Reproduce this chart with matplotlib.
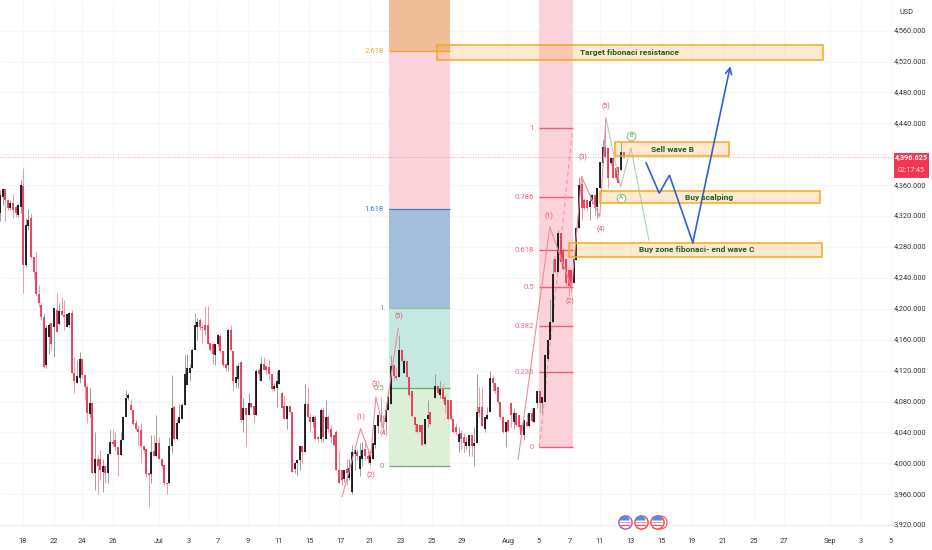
import matplotlib
matplotlib.use("Agg")
import matplotlib.pyplot as plt
import numpy as np
from matplotlib.patches import Rectangle

plt.rcParams['font.family'] = ['Roboto', 'DejaVu Sans']

opens = [4324,4345,4355,4341,4330,4337,4332,4321,4332,4359,
4257,4307,4317,4267,4247,4219,4205,4190,4127,4164,
4181,4177,4198,4180,4197,4192,4177,4179,4194,4117,
4104,4110,4135,4114,4099,4064,4078,3988,4006,4006,
3989,3996,3988,4012,4028,4030,4021,4011,4030,4060,
4084,4075,4069,4052,4045,4043,4022,4019,3987,3986,
4016,4009,4026,4006,3998,3975,3974,4022,4073,4032,
4052,4058,4075,4101,4117,4123,4147,4177,4185,4177,
4179,4179,4156,4155,4140,4154,4165,4145,4129,4127,
4172,4146,4104,4109,4131,4056,4071,4063,4078,4074,
4063,4121,4107,4128,4126,4125,4116,4096,4097,4103,
4091,4074,4057,4074,4067,3992,4000,4004,4022,4015,
4077,4060,4053,4060,4034,4031,4069,4032,4060,4045,
4037,4041,3991,3991,3980,3993,3981,3963,4012,4015,
3993,4006,4019,4009,4000,4006,4024,4048,4063,4054,
4054,4069,4077,4127,4113,4112,4147,4117,4133,4112,
4093,4060,4051,4050,4050,4025,4057,4067,4084,4100,
4088,4096,4086,4082,4082,4058,4047,4028,4039,4034,
4022,4022,4037,4022,4026,4073,4073,4045,4058,4067,
4111,4104,4099,4080,4060,4040,4056,4078,4054,4065,
4062,4050,4037,4054,4048,4065,4054,4078,4093,4078,
4080,4135,4160,4183,4265,4248,4298,4276,4265,4250,
4250,4233,4263,4304,4362,4341,4341,4332,4339,4347,
4332,4356,4389,4410,4408,4389,4395,4382,4384,4380,
4403]
highs = [4354,4356,4355,4341,4341,4349,4334,4336,4367,4382,
4317,4329,4324,4267,4275,4231,4209,4194,4179,4181,
4181,4201,4221,4207,4215,4211,4193,4196,4198,4138,
4134,4144,4135,4114,4101,4097,4080,4041,4011,4017,
4005,3996,4012,4043,4045,4041,4021,4041,4061,4095,
4091,4082,4069,4056,4050,4052,4022,4019,3987,4037,
4037,4063,4034,4006,3998,3975,4034,4114,4075,4058,
4077,4078,4140,4142,4129,4149,4195,4188,4188,4181,
4203,4203,4156,4155,4155,4168,4167,4145,4129,4174,
4179,4146,4127,4130,4133,4085,4071,4091,4078,4074,
4122,4123,4137,4137,4126,4135,4116,4104,4119,4121,
4094,4088,4074,4074,4067,4002,4006,4022,4022,4103,
4099,4065,4063,4063,4036,4071,4073,4082,4062,4050,
4037,4043,4017,3991,3991,4006,4006,4024,4019,4017,
4026,4028,4030,4019,4017,4026,4050,4063,4086,4063,
4071,4094,4140,4127,4125,4166,4147,4135,4133,4112,
4094,4060,4051,4050,4050,4058,4082,4067,4116,4100,
4106,4103,4088,4082,4082,4058,4052,4047,4043,4039,
4034,4037,4037,4047,4116,4099,4099,4060,4073,4119,
4114,4104,4099,4080,4060,4054,4056,4078,4072,4067,
4062,4050,4056,4065,4065,4071,4072,4093,4093,4086,
4141,4161,4213,4265,4265,4302,4298,4280,4265,4250,
4250,4265,4306,4371,4371,4343,4341,4349,4349,4347,
4356,4390,4418,4446,4408,4395,4395,4382,4384,4416,
4403]
lows = [4314,4334,4313,4328,4328,4317,4319,4319,4324,4220,
4254,4302,4265,4239,4218,4202,4186,4123,4123,4142,
4147,4138,4170,4179,4192,4173,4177,4177,4117,4091,
4104,4104,4110,4082,4052,4060,3987,3965,3960,3978,
3963,3974,3974,4012,4022,4017,3983,4011,4030,4060,
4082,4069,4049,4043,4024,4000,4013,3981,3944,3975,
4009,4009,4006,3994,3972,3960,3974,4013,4030,4030,
4052,4058,4075,4101,4106,4123,4147,4160,4172,4155,
4166,4155,4145,4129,4127,4152,4143,4125,4119,4120,
4147,4093,4097,4097,4054,4041,4022,4063,4071,4054,
4063,4108,4107,4121,4114,4108,4094,4094,4073,4103,
4072,4058,4044,4065,3989,3987,3983,3991,4000,4015,
4060,4041,4047,4032,4028,4028,4028,4032,4041,4026,
4022,3991,3975,3972,3976,3972,3978,3960,3991,4004,
3983,3996,4004,4000,3998,4005,4020,4039,4047,4041,
4045,4069,4077,4108,4108,4112,4131,4117,4112,4086,
4060,4041,4039,4041,4022,4024,4047,4050,4084,4088,
4084,4080,4065,4056,4056,4039,4037,4015,4019,4013,
4019,4009,4009,3996,4026,4060,4048,4041,4058,4067,
4093,4091,4077,4058,4039,4021,4041,4047,4045,4048,
4045,4035,4030,4048,4047,4054,4054,4072,4065,4065,
4080,4134,4160,4183,4246,4248,4258,4250,4228,4216,
4222,4233,4263,4304,4315,4328,4326,4315,4336,4321,
4317,4356,4389,4395,4356,4386,4369,4367,4363,4380,
4395]
closes = [4347,4355,4341,4331,4337,4328,4324,4334,4360,4257,
4309,4315,4267,4247,4219,4208,4190,4125,4175,4179,
4155,4201,4170,4197,4192,4190,4193,4194,4117,4106,
4113,4135,4114,4099,4065,4078,3987,4006,3996,3991,
3997,3988,4012,4028,4025,4021,4011,4030,4060,4085,
4088,4069,4051,4045,4041,4022,4017,3986,3985,4015,
4009,4026,4006,3996,3975,3973,4022,4071,4032,4052,
4060,4075,4116,4123,4124,4147,4179,4183,4177,4175,
4173,4155,4147,4142,4155,4166,4145,4127,4123,4172,
4147,4106,4112,4126,4056,4071,4063,4078,4073,4063,
4119,4116,4128,4121,4121,4116,4096,4100,4106,4121,
4072,4058,4074,4067,3989,4000,4004,4022,4015,4077,
4060,4053,4060,4032,4031,4069,4034,4060,4045,4034,
4024,3991,3975,3978,3991,3987,3994,4015,4017,4009,
4009,4017,4009,4006,4011,4026,4050,4063,4054,4053,
4069,4086,4126,4113,4110,4147,4133,4133,4112,4088,
4061,4050,4041,4041,4024,4058,4063,4051,4100,4091,
4096,4083,4076,4058,4057,4041,4041,4038,4032,4026,
4028,4037,4022,4026,4067,4065,4048,4060,4063,4111,
4104,4093,4079,4060,4041,4054,4042,4063,4065,4050,
4047,4037,4056,4048,4065,4055,4072,4093,4078,4086,
4140,4160,4183,4245,4248,4298,4261,4252,4233,4229,
4227,4265,4304,4360,4330,4330,4330,4339,4347,4331,
4356,4390,4410,4397,4369,4395,4369,4369,4363,4403,
4396]

price_ticks = list(range(3920, 4561, 40))
last_price = 4396.625
date_pos = [8.7,20.7,31.4,43.4,61,72.6,83.5,95.3,107.2,118.9,130.7,142.2,154.1,166,177.6,
            195.3,207.2,218.9,230.6,242.6,254.5,266,277.9,289.9,301.4,319.1,331,342.6]
date_lab = ['18','22','24','26','Jul','3','7','9','11','15','17','21','23','25','29',
            'Aug','5','7','11','13','15','19','21','25','27','Sep','3','5']

fib_left_levels = [3996, 4098, 4201, 4329, 4534]
fib_left_labels = ['0', '0.5', '1', '1.618', '2.618']
fib_right_levels = [4021, 4118, 4178, 4228, 4276, 4345, 4434]
fib_right_labels = ['0', '0.236', '0.382', '0.5', '0.618', '0.786', '1']

wave1_x = [131.5,138.6,142.5,144.5,147.3,153.1]
wave1_y = [3957,4045,4009,4086,4045,4175]
wave2_x = [199.2,211.4,219.8,223.6,230.6,233]
wave2_y = [4005,4306,4227,4371,4319,4447]
corr_x = [233,238.6,242.6,249.5]
corr_y = [4447,4358,4408,4289]
plan_x = [248.4,253.5,257.4,266.4,280.8]
plan_y = [4389,4349.5,4373,4285.6,4514]

boxes = [(168,316.3,4522,4542,'Target fibonaci resistance',242),
         (236.6,280.2,4398,4415.5,'Sell wave B',258.5),
         (230.7,315.5,4336.5,4352.5,'Buy scalping',272.5),
         (218.9,316,4267.5,4285.6,'Buy zone fibonaci- end wave C',268)]

wave_labels = [(138.7,4060,'(1)'),(142.6,3984,'(2)'),(144.5,4102,'(3)'),(147.6,4038,'(4)'),(153.3,4190,'(5)'),
               (211.1,4320,'(1)'),(219.1,4209,'(2)'),(224,4396,'(3)'),(230.9,4303,'(4)'),(232.9,4462,'(5)')]
event_x = [240.3,246.4,252.7]

fig = plt.figure(figsize=(9.32, 5.5), dpi=100, facecolor='white')
ax = fig.add_axes([0, 0, 1, 1])
ax.set_xlim(-0.1, 358.4)
ax.set_ylim(3887.8, 4599.7)
ax.axis('off')

GR = '#f5f5f5'
RIGHT = 343.3
ax.hlines(price_ticks, -0.1, RIGHT, color=GR, lw=0.9, zorder=0)
ax.vlines(date_pos, 3920, 4599.7, color='#f8f8f8', lw=0.9, zorder=0)
ax.hlines([3920], -0.1, RIGHT, color='#eeeeee', lw=0.9, zorder=0)

# fib bands
L0, L1 = 149.4, 173
top = 4599.7
bands = [(fib_left_levels[0], fib_left_levels[1], '#dcf0d8'),
         (fib_left_levels[1], fib_left_levels[2], '#c5e8e1'),
         (fib_left_levels[2], fib_left_levels[3], '#a3bfdc'),
         (fib_left_levels[3], fib_left_levels[4], '#fbd3da'),
         (fib_left_levels[4], top, '#efbd97')]
for a, b, c in bands:
    ax.add_patch(Rectangle((L0, a), L1-L0, b-a, fc=c, ec='none', zorder=1))
lcols = ['#8a9a8a', '#5cae62', '#8fbf9f', '#4a7fc4', '#f7a030']
tcols = ['#8f8f8f', '#66bb6a', '#8f8f8f', '#3a78d8', '#f5a342']
ax.hlines(fib_left_levels, L0, L1, colors=lcols, lw=0.9, zorder=3)
for v, s, c in zip(fib_left_levels, fib_left_labels, tcols):
    ax.text(147.6, v, s, ha='right', va='center', fontsize=5.6, color=c, zorder=6)

R0, R1 = 207.4, 220.2
ax.add_patch(Rectangle((R0, fib_right_levels[0]), R1-R0, top-fib_right_levels[0], fc='#fbd2d9', ec='none', zorder=1))
ax.hlines(fib_right_levels, R0, R1, colors='#e8607c', lw=1.0, zorder=3)
for v, s in zip(fib_right_levels, fib_right_labels):
    ax.text(205.3, v, s, ha='right', va='center', fontsize=5.6, color='#ee6a85', zorder=6)
ax.plot([R0, R1], [fib_right_levels[0], fib_right_levels[-1]], color='#eb9aa8', lw=0.8, ls=(0, (4, 3)), zorder=3)

# last price line
ax.hlines([last_price], -0.1, RIGHT, color='#f0808f', lw=0.6, ls=(0, (1, 2)), zorder=2)

# candles: bar slots, with the weekend gap and slight compression
n = len(closes)
xs = np.interp(np.arange(n), [0, 117, 167, 168, 207, 240], [0, 115.2, 165.4, 167.2, 206.5, 239.8])
wc = ['#9c9c9c' if c >= o else '#f497a4' for o, c in zip(opens, closes)]
bc = ['#0a0a0a' if c >= o else '#ee2f4e' for o, c in zip(opens, closes)]
ax.vlines(xs, lows, highs, colors=wc, lw=0.7, zorder=4)
ax.vlines(xs, [min(o, c) for o, c in zip(opens, closes)], [max(o, c) for o, c in zip(opens, closes)],
          colors=bc, lw=1.25, zorder=5)

# wave lines
ax.plot(wave1_x, wave1_y, color='#f08a9c', lw=0.8, zorder=6)
ax.plot(wave2_x, wave2_y, color='#f08a9c', lw=0.8, zorder=6)
ax.plot(corr_x, corr_y, color='#a5d6a7', lw=0.8, zorder=6)
ax.plot(plan_x[:-1], plan_y[:-1], color='#2f62d0', lw=1.2, zorder=8, solid_joinstyle='miter')
ax.annotate('', xy=(plan_x[-1], plan_y[-1]), xytext=(plan_x[-2], plan_y[-2]),
            arrowprops=dict(arrowstyle='->', color='#2f62d0', lw=1.2, mutation_scale=11, shrinkA=0, shrinkB=0), zorder=8)

for x, y, s in wave_labels:
    ax.text(x, y, s, ha='center', va='center', fontsize=5, color='#d9546f', zorder=7)
for x, y, s in [(238.8, 4344, 'A'), (242.6, 4424, 'B')]:
    ax.plot([x], [y], 'o', ms=6.2, mfc='white', mec='#7cc481', mew=0.7, zorder=7)
    ax.text(x, y, s, ha='center', va='center', fontsize=4.5, color='#4caf50', zorder=8)

# orange boxes
for x0, x1, y0, y1, label, tx in boxes:
    ax.add_patch(Rectangle((x0, y0), x1-x0, y1-y0, fc=(1, 0.6, 0.1, 0.2), ec='none', zorder=6))
    ax.add_patch(Rectangle((x0, y0), x1-x0, y1-y0, fc='none', ec='#f7a823', lw=1.1, zorder=7))
    ax.text(tx, (y0+y1)/2, label, ha='center', va='center', fontsize=6, color='#1b5e20',
            fontweight='bold', zorder=9)

# price axis labels
for p in price_ticks:
    if p == 4400:
        continue
    ax.text(356.2, p, f'{p:,.3f}', ha='right', va='center', fontsize=5.3, color='#333333', zorder=9)
ax.text(348.5, 4584, 'USD', ha='center', va='center', fontsize=5.3, color='#333333', zorder=9)

# last price tag
ax.add_patch(Rectangle((343.9, 4369), 13.4, 33, fc='#f23655', ec='none', zorder=9))
ax.text(357, 4395.5, f'{last_price:,.3f}', ha='right', va='center', fontsize=5.2, color='white', fontweight='bold', zorder=10)
ax.text(355.5, 4379, '02:17:45', ha='right', va='center', fontsize=5, color='#ffe0e5', zorder=10)

# date labels
for x, s in zip(date_pos, date_lab):
    ax.text(x, 3899, s, ha='center', va='center', fontsize=5.3, color='#333333', zorder=9)

# event flags
for i, x in enumerate(event_x):
    if i == 2:
        ax.plot([x+1.2], [3924], 'o', ms=9.5, mfc='white', mec='#ef5350', mew=0.8, zorder=9)
    ax.plot([x], [3924], 'o', ms=9.5, mfc='white', mec='#ef5350' if i else '#b060c0', mew=1.1, zorder=9)
    ax.plot([x-0.2], [3926], 'o', ms=7, fillstyle='top', mfc='#4a90e2', mfcalt='none', mec='none', zorder=10)
    ax.plot([x-1.5, x+1.5], [3920, 3920], color='#ef5350', lw=0.9, zorder=10)
    ax.plot([x-2, x+2], [3924.5, 3924.5], color='#ef8a8a', lw=0.6, zorder=10)

fig.savefig('out.png', dpi=100, facecolor='white')
